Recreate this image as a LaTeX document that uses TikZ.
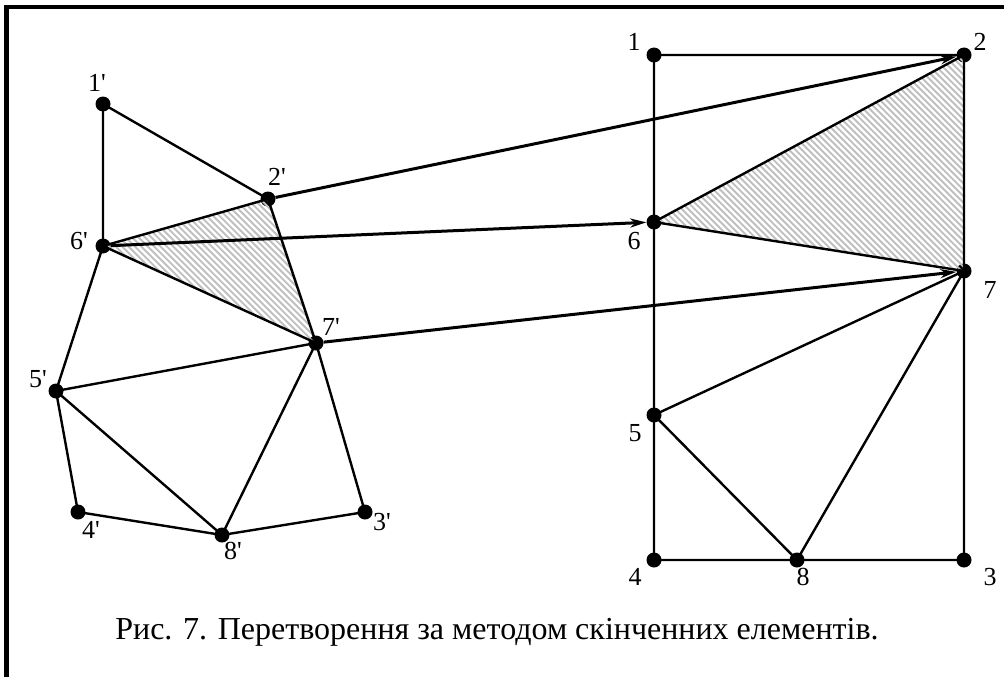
\documentclass[tikz,border=0pt]{standalone}
\usepackage{fontspec}
\setmainfont{Liberation Serif}
\newfontfamily\lblfont{Liberation Serif}
\usetikzlibrary{arrows.meta}
\begin{document}
\begin{tikzpicture}[x=1pt,y=-1pt,
  dot/.style={circle,fill=black,inner sep=0pt,minimum size=15pt},
  edge/.style={line width=2.4pt},
  mapto/.style={line width=3pt,-{Stealth[length=16pt,width=9pt,inset=5pt]}},
  lbl/.style={font=\lblfont\fontsize{26}{28}\selectfont,inner sep=0pt},
  hatch/.style={draw=black!25,line width=1.9pt}]
\useasboundingbox (0,0) rectangle (1004,677);
% frame
\draw[line width=4.5pt] (6.5,677) -- (6.5,7) -- (1004,7);
% left mesh nodes
\node[dot] (a1) at (103,104) {};
\node[dot] (a2) at (268,199) {};
\node[dot] (a6) at (103,246) {};
\node[dot] (a7) at (316,343) {};
\node[dot] (a5) at (56,391) {};
\node[dot] (a4) at (78,512) {};
\node[dot] (a8) at (222,535) {};
\node[dot] (a3) at (365,512) {};
% right mesh nodes
\node[dot] (b1) at (654,55) {};
\node[dot] (b2) at (964,55) {};
\node[dot] (b6) at (654,222) {};
\node[dot] (b7) at (964,271) {};
\node[dot] (b5) at (654,415) {};
\node[dot] (b4) at (654,560) {};
\node[dot] (b8) at (797,560) {};
\node[dot] (b3) at (964,560) {};
% hatching
\begin{scope}
\clip (a6.center) -- (a2.center) -- (a7.center) -- cycle;
\foreach \k in {0,6.4,...,500} {\draw[hatch] (\k,150) -- ++(250,250);}
\end{scope}
\begin{scope}
\clip (b6.center) -- (b2.center) -- (b7.center) -- cycle;
\foreach \k in {300,306.4,...,1000} {\draw[hatch] (\k,0) -- ++(350,350);}
\end{scope}
% left edges
\draw[edge] (a1.center) -- (a2.center) (a1.center) -- (a6.center)
  (a6.center) -- (a2.center) (a2.center) -- (a7.center) (a6.center) -- (a7.center)
  (a6.center) -- (a5.center) (a5.center) -- (a7.center) (a5.center) -- (a4.center)
  (a5.center) -- (a8.center) (a4.center) -- (a8.center) (a8.center) -- (a7.center)
  (a8.center) -- (a3.center) (a3.center) -- (a7.center);
% right edges
\draw[edge] (b1.center) -- (b2.center) (b1.center) -- (b6.center) (b6.center) -- (b5.center)
  (b5.center) -- (b4.center) (b2.center) -- (b7.center) (b7.center) -- (b3.center)
  (b4.center) -- (b8.center) (b8.center) -- (b3.center)
  (b6.center) -- (b2.center) (b6.center) -- (b7.center) (b5.center) -- (b7.center)
  (b5.center) -- (b8.center) (b8.center) -- (b7.center);
% mapping arrows
\draw[mapto] (a2) -- (b2);
\draw[mapto] (a6) -- (b6);
\draw[mapto] (a7) -- (b7);
% labels
\node[lbl] (l1) at (97,83) {1'};
\node[lbl] (l2) at (277,177) {2'};
\node[lbl] (l6) at (79,241) {6'};
\node[lbl] (l7) at (331,327) {7'};
\node[lbl] (l5) at (38,379) {5'};
\node[lbl] (l4) at (91,530) {4'};
\node[lbl] (l8) at (233,551) {8'};
\node[lbl] (l3) at (382,522) {3'};
\node[lbl] (r1) at (634,42) {1};
\node[lbl] (r2) at (980,42) {2};
\node[lbl] (r6) at (634,241) {6};
\node[lbl] (r7) at (990,290) {7};
\node[lbl] (r5) at (635,433) {5};
\node[lbl] (r4) at (635,577) {4};
\node[lbl] (r8) at (803,577) {8};
\node[lbl] (r3) at (990,577) {3};
% caption
\node[font=\fontsize{32}{36}\selectfont,anchor=base,inner sep=0pt] (cap) at (497,639) {Рис. 7. Перетворення за методом скінченних елементів.};
\end{tikzpicture}
\end{document}
